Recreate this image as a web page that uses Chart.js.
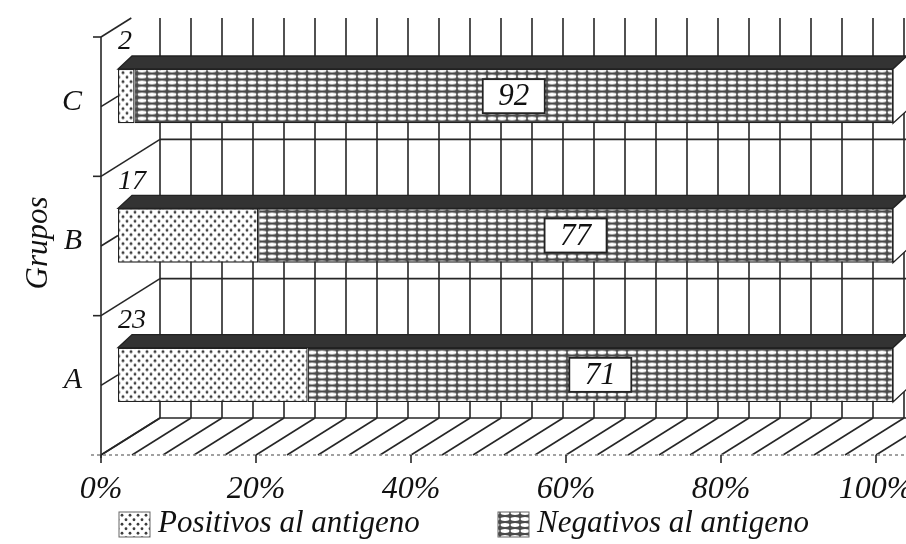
<!DOCTYPE html>
<html>
<head>
<meta charset="utf-8">
<script src="https://cdn.jsdelivr.net/npm/chart.js@4.4.1/dist/chart.umd.min.js"></script>
<style>
  html, body { margin: 0; padding: 0; background: #fff; }
  #wrap { width: 906px; height: 544px; }
</style>
</head>
<body>
<div id="wrap"><canvas id="c" width="906" height="544"></canvas></div>
<script>
// ---- data ----
const groups = ['C', 'B', 'A'];
const positivos = [2, 17, 23];
const negativos = [92, 77, 71];
const tickPercents = [0, 20, 40, 60, 80, 100];
const seriesNames = ['Positivos al antigeno', 'Negativos al antigeno'];
const axisTitle = 'Grupos';

// share of each group's total, for the 100 % stacked bars
const shareOf = (a, b) => a.map((v, i) => v / (a[i] + b[i]) * 100);

// ---- fill patterns ----
function makeTile(w, h, paint) {
  const cv = document.createElement('canvas');
  cv.width = w; cv.height = h;
  paint(cv.getContext('2d'));
  return document.getElementById('c').getContext('2d').createPattern(cv, 'repeat');
}
const dotPattern = makeTile(8, 9, g => {
  g.fillStyle = '#fff'; g.fillRect(0, 0, 8, 9);
  g.fillStyle = '#3c3c3c';
  [[2, 2.25], [6, 6.75]].forEach(([px, py]) => { g.beginPath(); g.arc(px, py, 1.4, 0, Math.PI * 2); g.fill(); });
});
const brickPattern = makeTile(10, 6, g => {
  g.fillStyle = '#4a4a4a'; g.fillRect(0, 0, 10, 6);
  g.fillStyle = '#fff';
  g.beginPath();
  g.ellipse(5, 3, 4.4, 1.9, 0, 0, Math.PI * 2);
  g.fill();
});

// ---- pseudo 3-D geometry ----
const DEPTH = { x: 59, y: -37 };        // front plane -> back wall
const BAR_SHIFT = { x: 17, y: -10.5 };  // bar front face sits slightly into the box
const BAR_DEPTH = { x: 14, y: -13 };    // thickness of each bar
const WALL_TOP = 18;
const GRID_STEP = 4;
const SERIF = '"Liberation Serif", "DejaVu Serif", serif';
const INK = '#262626';
const TEXT = '#111';

function seg(ctx, x1, y1, x2, y2) {
  ctx.beginPath(); ctx.moveTo(x1, y1); ctx.lineTo(x2, y2); ctx.stroke();
}

const frame3d = {
  id: 'frame3d',
  beforeDatasetsDraw(chart) {
    const { ctx, chartArea: a, scales: { x, y } } = chart;
    const W = chart.width;
    const floorBack = a.bottom + DEPTH.y;
    const band = (y.getPixelForValue(1) - y.getPixelForValue(0));
    const bounds = [];
    for (let i = 0; i <= groups.length; i++) bounds.push(y.getPixelForValue(0) - band / 2 + i * band);

    ctx.save();
    ctx.strokeStyle = INK;
    ctx.lineWidth = 1.6;

    // back wall verticals and floor depth lines
    for (let v = 0; v <= 100 + 1e-9; v += GRID_STEP) {
      const fx = x.getPixelForValue(v);
      const bx = fx + DEPTH.x;
      seg(ctx, bx, WALL_TOP, bx, floorBack);
      seg(ctx, fx, a.bottom, bx, floorBack);
    }
    // back wall horizontals at the group boundaries + floor back edge
    for (let i = 1; i < bounds.length; i++) {
      const yb = bounds[i] + DEPTH.y;
      seg(ctx, a.left + DEPTH.x, yb, W, yb);
    }
    // left wall diagonals
    bounds.forEach(yb => {
      let x2 = a.left + DEPTH.x, y2 = yb + DEPTH.y;
      if (y2 < WALL_TOP) {
        const t = (yb - WALL_TOP) / (-DEPTH.y);
        x2 = a.left + DEPTH.x * t; y2 = WALL_TOP;
      }
      seg(ctx, a.left, yb, x2, y2);
    });
    // left axis with boundary ticks
    seg(ctx, a.left, a.top, a.left, a.bottom + 3);
    bounds.slice(0, groups.length).forEach(yb => seg(ctx, a.left - 8, yb, a.left, yb));
    // short depth ticks toward each bar
    groups.forEach((g, i) => {
      const cy = y.getPixelForValue(i);
      seg(ctx, a.left, cy, a.left + BAR_SHIFT.x, cy + BAR_SHIFT.y);
    });

    // front edge of the floor (dotted) and value ticks
    ctx.save();
    ctx.strokeStyle = '#8a8a8a';
    ctx.setLineDash([3, 3]);
    seg(ctx, a.left - 10, a.bottom, W, a.bottom);
    ctx.restore();
    tickPercents.forEach(v => {
      const px = x.getPixelForValue(v);
      seg(ctx, px, a.bottom, px, a.bottom + 8);
    });

    // tick labels
    ctx.fillStyle = TEXT;
    ctx.font = 'italic 32px ' + SERIF;
    ctx.textAlign = 'center';
    ctx.textBaseline = 'middle';
    tickPercents.forEach(v => ctx.fillText(v + '%', x.getPixelForValue(v), a.bottom + 35));

    // group labels
    ctx.textAlign = 'right';
    ctx.font = 'italic 30px ' + SERIF;
    groups.forEach((g, i) => ctx.fillText(g, 82, y.getPixelForValue(i) - 5));

    // axis title
    ctx.save();
    ctx.translate(39, 243);
    ctx.rotate(-Math.PI / 2);
    ctx.textAlign = 'center';
    ctx.font = 'italic 31px ' + SERIF;
    ctx.fillText(axisTitle, 0, 0);
    ctx.restore();

    // positive counts on the left wall, above each bar
    ctx.textAlign = 'left';
    ctx.font = 'italic 28px ' + SERIF;
    groups.forEach((g, i) => ctx.fillText(String(positivos[i]), a.left + 17, bounds[i] + 5));

    ctx.restore();

    // bars are drawn on a plane pushed into the box
    ctx.save();
    ctx.translate(BAR_SHIFT.x, BAR_SHIFT.y);
  },
  afterDatasetsDraw(chart) {
    const { ctx } = chart;
    ctx.restore();

    const m0 = chart.getDatasetMeta(0), m1 = chart.getDatasetMeta(1);
    ctx.save();
    ctx.lineWidth = 1.3;
    ctx.strokeStyle = '#222';
    groups.forEach((g, i) => {
      const e0 = m0.data[i], e1 = m1.data[i];
      const x0 = Math.min(e0.base, e0.x) + BAR_SHIFT.x;
      const x1 = Math.max(e1.base, e1.x) + BAR_SHIFT.x;
      const top = e0.y - e0.height / 2 + BAR_SHIFT.y;
      const bot = e0.y + e0.height / 2 + BAR_SHIFT.y;
      // top face
      ctx.fillStyle = '#333';
      ctx.beginPath();
      ctx.moveTo(x0, top); ctx.lineTo(x1, top);
      ctx.lineTo(x1 + BAR_DEPTH.x, top + BAR_DEPTH.y);
      ctx.lineTo(x0 + BAR_DEPTH.x, top + BAR_DEPTH.y);
      ctx.closePath(); ctx.fill(); ctx.stroke();
      // end face
      ctx.fillStyle = '#fff';
      ctx.beginPath();
      ctx.moveTo(x1, top); ctx.lineTo(x1 + BAR_DEPTH.x, top + BAR_DEPTH.y);
      ctx.lineTo(x1 + BAR_DEPTH.x, bot + BAR_DEPTH.y); ctx.lineTo(x1, bot);
      ctx.closePath(); ctx.fill(); ctx.stroke();

      // negative count in a boxed label on its segment
      const cx = (e1.base + e1.x) / 2 + BAR_SHIFT.x;
      const cy = e1.y + BAR_SHIFT.y;
      ctx.fillStyle = '#fff';
      ctx.fillRect(cx - 31, cy - 17, 62, 34);
      ctx.lineWidth = 1.8;
      ctx.strokeRect(cx - 31, cy - 17, 62, 34);
      ctx.lineWidth = 1.3;
      ctx.fillStyle = TEXT;
      ctx.font = 'italic 31px ' + SERIF;
      ctx.textAlign = 'center';
      ctx.textBaseline = 'middle';
      ctx.fillText(String(negativos[i]), cx, cy + 1);
    });

    // legend
    const items = [
      { x: 119, fill: dotPattern, text: seriesNames[0] },
      { x: 498, fill: brickPattern, text: seriesNames[1] }
    ];
    ctx.font = 'italic 31px ' + SERIF;
    ctx.textAlign = 'left';
    ctx.textBaseline = 'middle';
    items.forEach(it => {
      ctx.fillStyle = it.fill;
      ctx.fillRect(it.x, 512, 31, 25);
      ctx.lineWidth = 1;
      ctx.strokeStyle = '#666';
      ctx.strokeRect(it.x, 512, 31, 25);
      ctx.fillStyle = TEXT;
      ctx.fillText(it.text, it.x + 39, 524);
    });
    ctx.restore();
  }
};

const chart = new Chart(document.getElementById('c'), {
  type: 'bar',
  data: {
    labels: groups,
    datasets: [
      { label: seriesNames[0], data: shareOf(positivos, negativos), backgroundColor: dotPattern,
        borderColor: '#222', borderWidth: 1.3, borderSkipped: false },
      { label: seriesNames[1], data: shareOf(negativos, positivos), backgroundColor: brickPattern,
        borderColor: '#222', borderWidth: 1.3, borderSkipped: false }
    ]
  },
  options: {
    indexAxis: 'y',
    responsive: false,
    animation: false,
    events: [],
    layout: { padding: { left: 101, right: 30, top: 37, bottom: 89 } },
    datasets: { bar: { categoryPercentage: 1, barPercentage: 0.39 } },
    scales: {
      x: { stacked: true, min: 0, max: 100, display: false },
      y: { stacked: true, display: false }
    },
    plugins: { legend: { display: false }, tooltip: { enabled: false } }
  },
  plugins: [frame3d]
});
</script>
</body>
</html>
